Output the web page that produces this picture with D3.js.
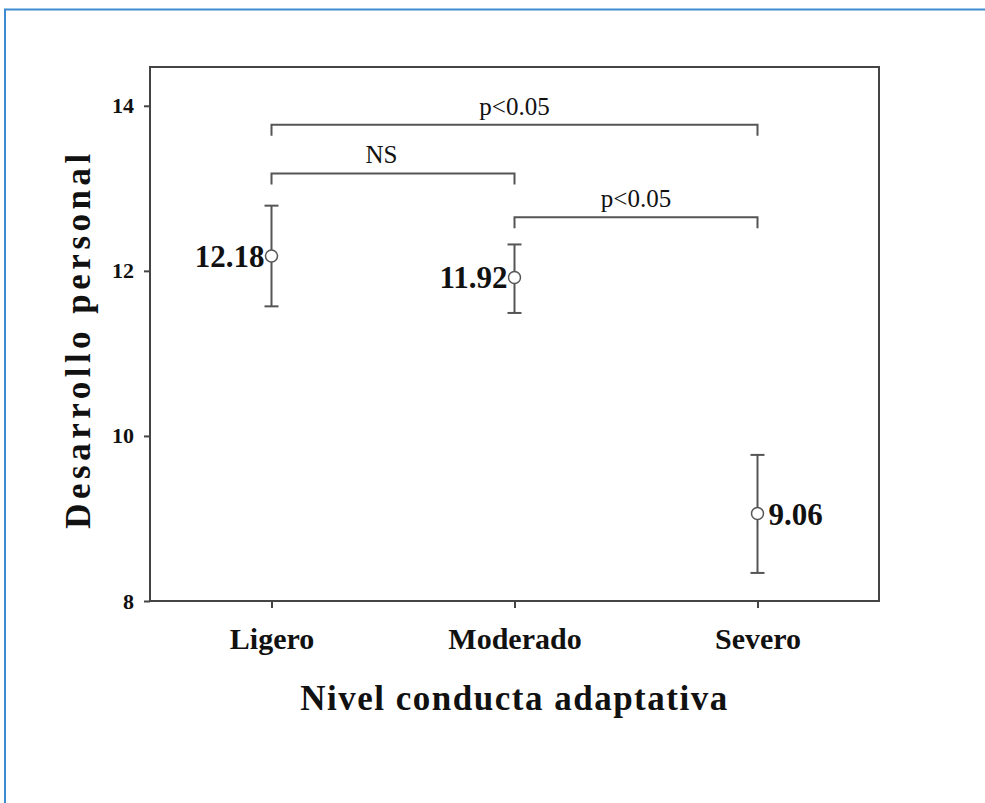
<!DOCTYPE html>
<html>
<head>
<meta charset="utf-8">
<script src="https://cdn.jsdelivr.net/npm/d3@7"></script>
<style>
  body { margin: 0; background: #fff; }
  svg { display: block; }
  text { font-family: "Liberation Serif", "Times New Roman", serif; fill: #111; }
</style>
</head>
<body>
<svg></svg>
<script>
const categories = ['Ligero', 'Moderado', 'Severo'];
const means = [12.18, 11.92, 9.06];
const upper = [12.79, 12.32, 9.77];
const lower = [11.57, 11.49, 8.34];
const yTicks = [8, 10, 12, 14];

// significance brackets: from, to, level, label
const brackets = [
  { from: 'Ligero', to: 'Severo', y: 13.77, label: 'p<0.05' },
  { from: 'Ligero', to: 'Moderado', y: 13.18, label: 'NS' },
  { from: 'Moderado', to: 'Severo', y: 12.65, label: 'p<0.05' }
];

const width = 985;
const height = 803;
const margin = { top: 67, right: 106, bottom: 202, left: 150 };

const svg = d3.select('svg')
  .attr('width', width)
  .attr('height', height);

// outer blue frame
svg.append('path')
  .attr('d', `M5,${height}V9.5H${width}`)
  .attr('fill', 'none')
  .attr('stroke', '#3d8bd0')
  .attr('stroke-width', 2);

const x = d3.scalePoint()
  .domain(categories)
  .range([margin.left, width - margin.right])
  .padding(0.5);

const y = d3.scaleLinear()
  .domain([8, 14.47])
  .range([height - margin.bottom, margin.top]);

const g = svg.append('g');

// plot box
g.append('rect')
  .attr('x', margin.left)
  .attr('y', margin.top)
  .attr('width', width - margin.right - margin.left)
  .attr('height', height - margin.bottom - margin.top)
  .attr('fill', 'none')
  .attr('stroke', '#444')
  .attr('stroke-width', 2);

const yAxis = g.append('g')
  .attr('transform', `translate(${margin.left},0)`)
  .call(d3.axisLeft(y).tickValues(yTicks).tickSize(6).tickPadding(10).tickFormat(d3.format('d')));
yAxis.select('.domain').remove();
yAxis.selectAll('line').attr('stroke', '#444').attr('stroke-width', 2);
yAxis.selectAll('text')
  .style('font-family', '"Liberation Serif", serif')
  .style('font-size', '22px')
  .style('font-weight', 'bold')
  .attr('fill', '#111');

const xAxis = g.append('g')
  .attr('transform', `translate(0,${height - margin.bottom})`)
  .call(d3.axisBottom(x).tickSize(7).tickPadding(20));
xAxis.select('.domain').remove();
xAxis.selectAll('line').attr('stroke', '#444').attr('stroke-width', 2);
xAxis.selectAll('text')
  .style('font-family', '"Liberation Serif", serif')
  .style('font-size', '30px')
  .style('font-weight', 'bold')
  .attr('fill', '#111');

// axis titles
svg.append('text')
  .attr('x', x('Moderado'))
  .attr('y', 710)
  .attr('text-anchor', 'middle')
  .style('font-size', '35px')
  .style('font-weight', 'bold')
  .style('letter-spacing', '1.5px')
  .text('Nivel conducta adaptativa');

svg.append('text')
  .attr('transform', `translate(90,339) rotate(-90)`)
  .attr('text-anchor', 'middle')
  .style('font-size', '35px')
  .style('font-weight', 'bold')
  .style('letter-spacing', '4.5px')
  .text('Desarrollo personal');

// error bars
const pts = categories.map((c, i) => ({ c, m: means[i], hi: upper[i], lo: lower[i] }));
const cap = 7;

const bars = g.selectAll('.err').data(pts).enter().append('g').attr('class', 'err')
  .attr('stroke', '#555').attr('stroke-width', 2).attr('fill', 'none');
bars.append('line')
  .attr('x1', d => x(d.c)).attr('x2', d => x(d.c))
  .attr('y1', d => y(d.hi)).attr('y2', d => y(d.m) - 6);
bars.append('line')
  .attr('x1', d => x(d.c)).attr('x2', d => x(d.c))
  .attr('y1', d => y(d.m) + 6).attr('y2', d => y(d.lo));
bars.append('line')
  .attr('x1', d => x(d.c) - cap).attr('x2', d => x(d.c) + cap)
  .attr('y1', d => y(d.hi)).attr('y2', d => y(d.hi));
bars.append('line')
  .attr('x1', d => x(d.c) - cap).attr('x2', d => x(d.c) + cap)
  .attr('y1', d => y(d.lo)).attr('y2', d => y(d.lo));
bars.append('circle')
  .attr('cx', d => x(d.c)).attr('cy', d => y(d.m)).attr('r', 6)
  .attr('stroke-width', 1.5);

// value labels
g.selectAll('.val').data(pts).enter().append('text')
  .attr('class', 'val')
  .attr('x', d => d.c === 'Severo' ? x(d.c) + 11 : x(d.c) - 7)
  .attr('y', d => y(d.m) + 11)
  .attr('text-anchor', d => d.c === 'Severo' ? 'start' : 'end')
  .style('font-size', '31px')
  .style('font-weight', 'bold')
  .text(d => d.m.toFixed(2));

// brackets
const drop = 11;
const br = g.selectAll('.bracket').data(brackets).enter().append('g').attr('class', 'bracket');
br.append('path')
  .attr('d', d => `M${x(d.from)},${y(d.y) + drop}V${y(d.y)}H${x(d.to)}V${y(d.y) + drop}`)
  .attr('fill', 'none')
  .attr('stroke', '#555')
  .attr('stroke-width', 2);
br.append('text')
  .attr('x', d => d.label === 'NS' ? x(d.from) + 110 : (x(d.from) + x(d.to)) / 2)
  .attr('y', d => y(d.y) - 10)
  .attr('text-anchor', 'middle')
  .style('font-size', '25px')
  .text(d => d.label);
</script>
</body>
</html>
